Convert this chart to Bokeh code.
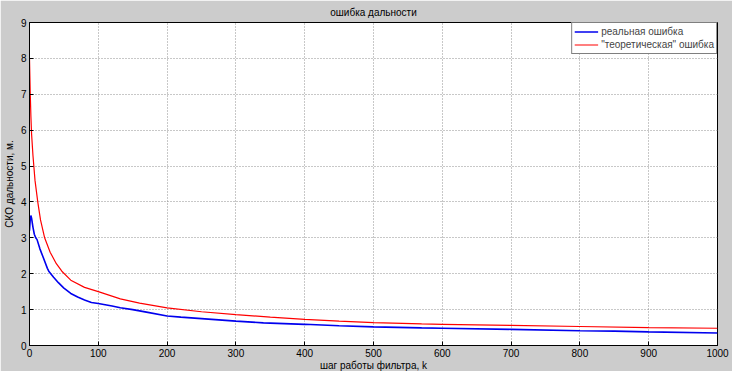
from bokeh.plotting import figure
from bokeh.models import Range1d, FixedTicker, Legend, LegendItem
from bokeh.embed import file_html
from bokeh.resources import INLINE

title_text = "ошибка дальности"
x_label = "шаг работы фильтра, k"
y_label = "СКО дальности, м."
legend_labels = ["реальная ошибка", "\"теоретическая\" ошибка"]

x_ticks = [0, 100, 200, 300, 400, 500, 600, 700, 800, 900, 1000]
y_ticks = [0, 1, 2, 3, 4, 5, 6, 7, 8, 9]

k_blue = [0, 1, 2, 3, 5, 7, 9, 11, 15, 20, 26, 28, 35, 42, 50, 60, 70, 80, 90,
          100, 120, 132, 150, 170, 200, 220, 250, 300, 340, 400, 450, 500, 570,
          600, 700, 800, 850, 900, 1000]
blue = [3.2, 3.5, 3.62, 3.55, 3.3, 3.1, 3.0, 2.95, 2.7, 2.45, 2.15, 2.07, 1.9,
        1.75, 1.6, 1.45, 1.35, 1.27, 1.2, 1.17, 1.1, 1.05, 1.0, 0.93, 0.82, 0.79,
        0.75, 0.68, 0.63, 0.59, 0.55, 0.52, 0.49, 0.48, 0.45, 0.41, 0.40, 0.38, 0.35]

k_red = [0, 1, 2, 3, 5, 8, 12, 16, 22, 30, 39, 47, 60, 80, 100, 132, 160, 200,
         250, 300, 350, 400, 450, 500, 570, 600, 700, 800, 900, 1000]
red = [8.0, 7.1, 6.4, 5.9, 5.3, 4.6, 4.0, 3.5, 3.0, 2.6, 2.28, 2.07, 1.82, 1.62,
       1.5, 1.3, 1.18, 1.05, 0.94, 0.86, 0.79, 0.73, 0.68, 0.64, 0.6, 0.59, 0.56,
       0.53, 0.5, 0.48]

FONT = "Liberation Sans"
GRAY = "#cccccc"

p = figure(frame_width=688, frame_height=323, output_backend="svg",
           toolbar_location=None, x_range=Range1d(0, 1000), y_range=Range1d(0, 9),
           min_border_left=29, min_border_right=15, min_border_top=21, min_border_bottom=26)

p.background_fill_color = "white"
p.border_fill_color = GRAY
p.outline_line_color = "black"
p.outline_line_width = 1

p.title.text = title_text
p.title.align = "center"
p.title.text_font = FONT
p.title.text_font_size = "10px"
p.title.text_font_style = "normal"
p.title.text_color = "black"
p.title.standoff = 9

for ax, ticks in ((p.xaxis[0], x_ticks), (p.yaxis[0], y_ticks)):
    ax.ticker = FixedTicker(ticks=ticks)
    ax.major_tick_in = 4
    ax.major_tick_out = 0
    ax.minor_tick_line_color = None
    ax.axis_line_color = "black"
    ax.major_tick_line_color = "black"
    ax.major_label_text_font = FONT
    ax.major_label_text_font_size = "10px"
    ax.major_label_text_color = "black"
    ax.axis_label_text_font = FONT
    ax.axis_label_text_font_size = "10px"
    ax.axis_label_text_font_style = "normal"
    ax.axis_label_text_color = "black"

p.xaxis.axis_label = x_label
p.yaxis.axis_label = y_label
p.xaxis.major_label_standoff = 3
p.xaxis.axis_label_standoff = 0
p.yaxis.major_label_standoff = 3
p.yaxis.axis_label_standoff = 3

p.xgrid[0].ticker = FixedTicker(ticks=x_ticks)
p.ygrid[0].ticker = FixedTicker(ticks=y_ticks)
for g in (p.xgrid[0], p.ygrid[0]):
    g.grid_line_color = "#909090"
    g.grid_line_dash = "1 2"
    g.grid_line_width = 1

r_blue = p.line(k_blue, blue, line_color="#0000ee", line_width=1.6)
r_red = p.line(k_red, red, line_color="#ff0000", line_width=1.2)

legend = Legend(items=[LegendItem(label=legend_labels[0], renderers=[r_blue]),
                       LegendItem(label=legend_labels[1], renderers=[r_red])],
                location="top_right")
legend.margin = 0
legend.padding = 2
legend.spacing = 0
legend.glyph_width = 24
legend.glyph_height = 13
legend.label_height = 13
legend.label_standoff = 3
legend.label_text_font = FONT
legend.label_text_font_size = "10px"
legend.border_line_color = "black"
legend.border_line_width = 1
legend.background_fill_color = "white"
legend.background_fill_alpha = 1
p.add_layout(legend)

open("out.html", "w").write(file_html(p, INLINE))
